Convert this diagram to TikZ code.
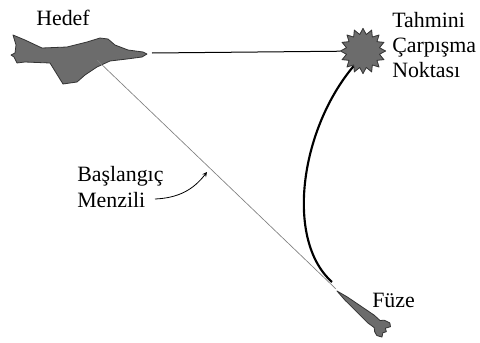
\documentclass[tikz,border=0pt]{standalone}
\usepackage{fontspec}
\setmainfont{Liberation Serif}
\usetikzlibrary{shapes.geometric}
\definecolor{koyugri}{RGB}{108,108,108}
\tikzset{>=stealth}
\tikzset{
  yazi/.style={font=\fontsize{16.4}{18.8}\selectfont, inner sep=0pt, align=left},
  govde/.style={fill=koyugri, draw=black!80, line width=0.6pt, line join=round}
}

\begin{document}
\begin{tikzpicture}[x=0.75pt, y=-0.75pt]
\useasboundingbox (0,0) rectangle (480,343);
% hedef ucak
\draw[govde] (13,35) -- (25,40) -- (42,48) -- (67,47) -- (87,42) -- (100,38)
  -- (108,39) -- (115,45) -- (128,50) -- (143,52) -- (147,54) -- (142,57)
  -- (127,59) -- (110,61) -- (97,67) -- (85,75) -- (77,82) -- (63,84)
  -- (50,63) -- (25,62) -- (17,63) -- (14,57) -- (11,55) -- (15,53)
  -- (16,45) -- cycle;
\coordinate (burun) at (152,53);
\coordinate (gobek) at (97,60);
% carpisma noktasi
\node[star, star points=16, star point ratio=1.35, minimum size=34pt,
  inner sep=0pt, govde] (cpn) at (363,51) {};
% fuze
\begin{scope}[shift={(337,291)}, rotate=-39.5]
\draw[govde] (0,0) -- (12,-2) -- (44,-5) -- (52,-4.6) -- (55,-7.5) -- (61,-9)
  -- (64,-6.5) -- (61,-2) -- (64,0) -- (62,3) -- (64,7) -- (59,9)
  -- (55,7.5) -- (52,4.6) -- (44,5) -- (12,2) -- cycle;
\end{scope}
\coordinate (uc) at (336,289);
\coordinate (iz) at (332,282);
% yollar
\draw[line width=0.75pt] (burun) -- (cpn);
\draw[gray, line width=0.5pt] (gobek) -- (uc);
\draw[line width=1.6pt] (cpn.-122) .. controls (300,130) and (285,240) .. (iz);
% yazilar
\node[yazi] (hedef) at (63,18) {Hedef};
\node[yazi, anchor=west] (tahmin) at (392,45) {Tahmini\\Çarpışma\\Noktası};
\node[yazi, anchor=west] (fuze) at (372,300) {Füze};
\node[yazi, anchor=west, font=\fontsize{16.4}{20}\selectfont] (menzil) at (77,187)
  {Başlangıç\\Menzili};
\coordinate (okbas) at (155,199);
\coordinate (okuc) at (207,172);
\draw[->, line width=0.6pt] (okbas) to[bend right=25] (okuc);
\end{tikzpicture}
\end{document}
